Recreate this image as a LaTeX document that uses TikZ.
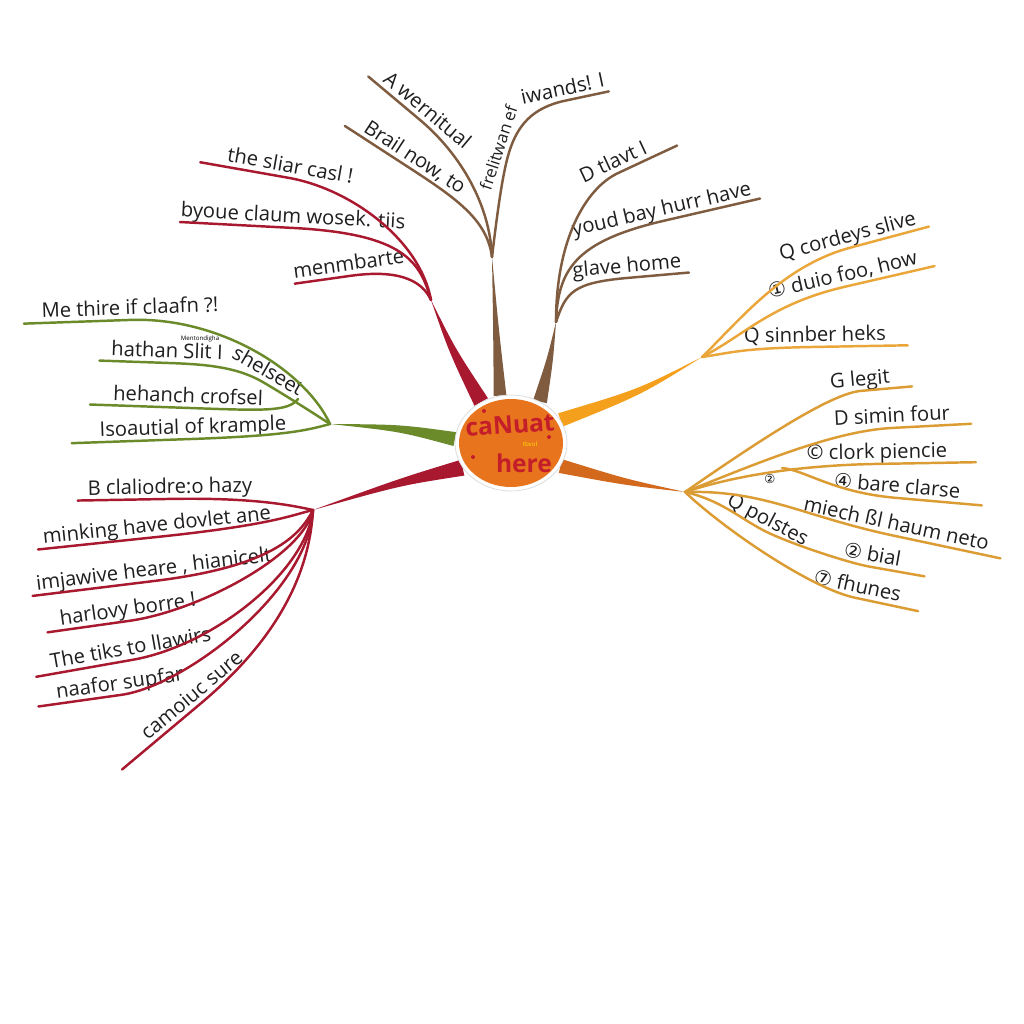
\documentclass[tikz,border=0pt]{standalone}
\usepackage{fontspec}
\setmainfont{Open Sans}
\newfontfamily\symf{DejaVu Sans}
\usetikzlibrary{calc,shapes.geometric,backgrounds}
\definecolor{mmbrown}{HTML}{7F5C40}
\definecolor{mmred}{HTML}{A8182E}
\definecolor{mmgreen}{HTML}{6B8A2A}
\definecolor{mmorange}{HTML}{F5A01C}
\definecolor{mmoline}{HTML}{EBA63A}
\definecolor{mmrust}{HTML}{D2691C}
\definecolor{mmgold}{HTML}{DC9C34}
\definecolor{mmcenter}{HTML}{E8741E}
\definecolor{mmtext}{HTML}{C41E2A}
% tapered thick branch: colour, start, control, end, half width at start, half width at control
\newcommand\mmtaper[6]{%
  \fill[#1] ($(#2)!#5!90:(#3)$) .. controls ($(#3)!#6!90:(#4)$) .. (#4)
     .. controls ($(#3)!#6!-90:(#4)$) .. ($(#2)!#5!-90:(#3)$) -- cycle;}
% leaf line: colour, extension factor, text node, anchor toward outer end, anchor toward junction, control, junction
\newcommand\mmleaf[7]{%
  \draw[leaf,#1] ($(#3.south)!#2!(#3.#4)$) -- (#3.south)
     .. controls (#3.#5) and (#6) .. (#7);}
\tikzset{
  leaf/.style={line width=1.4pt, line cap=round},
  lbl/.style={inner xsep=0pt, inner ysep=0.6pt, text height=0.75em, text depth=0.22em,
              text=black!88, font=\fontsize{11.5}{13}\selectfont},
}
\begin{document}
\begin{tikzpicture}[x=0.02cm,y=-0.02cm]
\useasboundingbox (0,0) rectangle (1024,1024);
% centre
\node[ellipse, minimum width=2.24cm, minimum height=1.92cm, fill=white, draw=black!15, line width=0.4pt, inner sep=0pt] (cring) at (511,443) {};
\node[ellipse, minimum width=2.08cm, minimum height=1.76cm, fill=mmcenter, inner sep=0pt] (c) at (511,443) {};
\node[text=mmtext, font=\fontsize{14}{14}\bfseries\selectfont, rotate=4, inner sep=0pt] (ct1) at (510,425) {caNuat};
\node[text=mmtext, font=\fontsize{14}{14}\bfseries\selectfont, inner sep=0pt] (ct2) at (524,463) {here};
\node[text=yellow!85!orange, font=\fontsize{3.5}{4}\selectfont, inner sep=0pt] (ct3) at (530,444) {tbvol};
\fill[mmtext] (484,411) circle (2) (549,437) circle (2) (473,457) circle (2);

% junctions
\coordinate (jB1) at (492,257);
\coordinate (jB2) at (556,322);
\coordinate (jR1) at (431,300);
\coordinate (jG) at (330,424);
\coordinate (gj) at (298,399);
\coordinate (jR2) at (313,510);
\coordinate (jO1) at (702,357);
\coordinate (jO2) at (685,492);
\coordinate (pj) at (782,468);

\begin{scope}[on background layer]
\fill[white] (0,0) rectangle (1024,1024);
\mmtaper{mmbrown}{cring.103}{496,330}{jB1}{3.6pt}{1.6pt}
\mmtaper{mmbrown}{cring.55}{550,360}{jB2}{4pt}{1.8pt}
\mmtaper{mmred}{cring.126}{452,350}{jR1}{4.4pt}{2pt}
\mmtaper{mmgreen}{cring.176}{400,428}{jG}{4pt}{2pt}
\mmtaper{mmred}{cring.207}{400,482}{jR2}{4.6pt}{2pt}
\mmtaper{mmorange}{cring.25}{640,392}{jO1}{4pt}{1.8pt}
\mmtaper{mmrust}{cring.-25}{625,482}{jO2}{4pt}{1.8pt}
\end{scope}

% ---- brown, top
\node[lbl, rotate=-40] (tA1) at (426,112) {A wernitual};
\node[lbl, rotate=-33] (tA2) at (414,159) {Brail now, to};
\node[lbl, rotate=72, font=\fontsize{9.5}{10}\selectfont] (tA3) at (500,148) {frelitwan ef};
\node[lbl, rotate=12] (tA4) at (563,91) {iwands! I};
\mmleaf{mmbrown}{1.25}{tA1}{south west}{south east}{490,205}{jB1}
\mmleaf{mmbrown}{1.3}{tA2}{south west}{south east}{487,220}{jB1}
\draw[leaf, mmbrown] (jB1) .. controls (497,215) and ($(tA3.south)!0.5!(tA3.south west)$) .. (tA3.south)
   .. controls ($(tA3.south)!0.6!(tA3.south east)$) and ($(tA4.south)!0.8!(tA4.south west)$) .. (tA4.south)
   -- ($(tA4.south)!1.05!(tA4.south east)$);
% ---- brown, right
\node[lbl, rotate=25] (tB1) at (614,164) {D tlavt I};
\node[lbl, rotate=13] (tB2) at (662,211) {youd bay hurr have};
\node[lbl, rotate=5] (tB3) at (627,268) {glave home};
\mmleaf{mmbrown}{1.8}{tB1}{south east}{south west}{556,240}{jB2}
\mmleaf{mmbrown}{1.07}{tB2}{south east}{south west}{558,270}{jB2}
\mmleaf{mmbrown}{1.12}{tB3}{south east}{south west}{566,292}{jB2}
% ---- red, top-left
\node[lbl, rotate=-10] (tR1) at (290,168) {the sliar casl !};
\node[lbl, rotate=-3] (tR2) at (293,218) {byoue claum wosek. tiis};
\node[lbl, rotate=8] (tR3) at (349,266) {menmbarte};
\mmleaf{mmred}{1.4}{tR1}{south west}{south east}{420,240}{jR1}
\mmleaf{mmred}{1.0}{tR2}{south west}{south east}{420,262}{jR1}
\mmleaf{mmred}{1.0}{tR3}{south west}{south east}{424,285}{jR1}
% ---- green
\node[lbl, rotate=2] (tG1) at (130,310) {Me thire if claafn ?!};
\node[inner sep=0pt, font=\fontsize{3.5}{4}\selectfont] (tG0) at (200,339) {Mentondigha};
\node[lbl, rotate=-2] (tG2) at (167,353) {hathan Slit I};
\node[lbl, rotate=-30] (tG3) at (267,373) {shelseet};
\node[lbl, rotate=-2] (tG4) at (188,398) {hehanch crofsel};
\node[lbl, rotate=2] (tG5) at (193,429) {Isoautial of krample};
\mmleaf{mmgreen}{1.2}{tG1}{south west}{south east}{305,370}{jG}
\draw[leaf, mmgreen] ($(tG2.south)!1.2!(tG2.south west)$) -- (tG2.south)
   .. controls ($(tG2.south)!0.6!(tG2.south east)$) and ($(tG3.south)!0.8!(tG3.south west)$) .. (tG3.south)
   .. controls ($(tG3.south)!0.6!(tG3.south east)$) and (318,416) .. (jG);
\mmleaf{mmgreen}{1.3}{tG4}{south west}{south east}{288,412}{gj}
\mmleaf{mmgreen}{1.3}{tG5}{south west}{south east}{308,430}{jG}
% ---- red, lower-left
\node[lbl, rotate=1] (tS1) at (170,489) {B claliodre:o hazy};
\node[lbl, rotate=6] (tS2) at (157,527) {minking have dovlet ane};
\node[lbl, rotate=7] (tS3) at (154,571) {imjawive heare , hianicelt};
\node[lbl, rotate=8] (tS4) at (128,611) {harlovy borre !};
\node[lbl, rotate=10] (tS5) at (131,650) {The tiks to llawirs};
\node[lbl, rotate=8] (tS6) at (120,685) {naafor supfar};
\node[lbl, rotate=40] (tS7) at (193,697) {camoiuc sure};
\mmleaf{mmred}{1.12}{tS1}{south west}{south east}{290,505}{jR2}
\mmleaf{mmred}{1.05}{tS2}{south west}{south east}{292,515}{jR2}
\mmleaf{mmred}{1.04}{tS3}{south west}{south east}{300,535}{jR2}
\mmleaf{mmred}{1.2}{tS4}{south west}{south east}{303,556}{jR2}
\mmleaf{mmred}{1.2}{tS5}{south west}{south east}{306,572}{jR2}
\mmleaf{mmred}{1.3}{tS6}{south west}{south east}{308,592}{jR2}
\mmleaf{mmred}{1.6}{tS7}{south west}{south east}{308,600}{jR2}
% ---- orange, upper-right
\node[lbl, rotate=15] (tO1) at (848,238) {Q cordeys slive};
\node[lbl, rotate=13] (tO2) at (843,277) {{\symf ①} duio foo, how};
\node[lbl, rotate=1] (tO3) at (815,337) {Q sinnber heks};
\mmleaf{mmoline}{1.15}{tO1}{south east}{south west}{740,320}{jO1}
\mmleaf{mmoline}{1.2}{tO2}{south east}{south west}{745,335}{jO1}
\mmleaf{mmoline}{1.3}{tO3}{south east}{south west}{735,352}{jO1}
% ---- rust, right
\node[lbl, rotate=5] (tP1) at (860,381) {G legit};
\node[lbl, rotate=3] (tP2) at (892,418) {D simin four};
\node[lbl, rotate=1] (tP3) at (877,454) {© clork piencie};
\node[lbl, rotate=-5] (tP4) at (897,488) {{\symf ④} bare clarse};
\node[inner sep=0pt, font=\symf\fontsize{7}{8}\selectfont] (tP0) at (770,479) {②};
\node[lbl, rotate=-12] (tP5) at (896,526) {miech ßl haum neto};
\node[lbl, rotate=-28] (tP6) at (767,521) {Q polstes};
\node[lbl, rotate=-10] (tP7) at (872,557) {{\symf ②} bial};
\node[lbl, rotate=-12] (tP8) at (857,588) {{\symf ⑦} fhunes};
\mmleaf{mmgold}{1.7}{tP1}{south east}{south west}{760,440}{jO2}
\mmleaf{mmgold}{1.35}{tP2}{south east}{south west}{760,462}{jO2}
\mmleaf{mmgold}{1.4}{tP3}{south east}{south west}{740,474}{jO2}
\mmleaf{mmgold}{1.35}{tP4}{south east}{south west}{805,470}{pj}
\mmleaf{mmgold}{1.15}{tP5}{south east}{south west}{765,490}{jO2}
\draw[leaf, mmgold] (jO2) .. controls (720,500) and ($(tP6.south)!0.6!(tP6.south west)$) .. (tP6.south)
   .. controls ($(tP6.south)!0.6!(tP6.south east)$) and ($(tP7.south)!0.8!(tP7.south west)$) .. (tP7.south)
   -- ($(tP7.south)!1.9!(tP7.south east)$);
\mmleaf{mmgold}{1.45}{tP8}{south east}{south west}{725,530}{jO2}
\end{tikzpicture}
\end{document}
